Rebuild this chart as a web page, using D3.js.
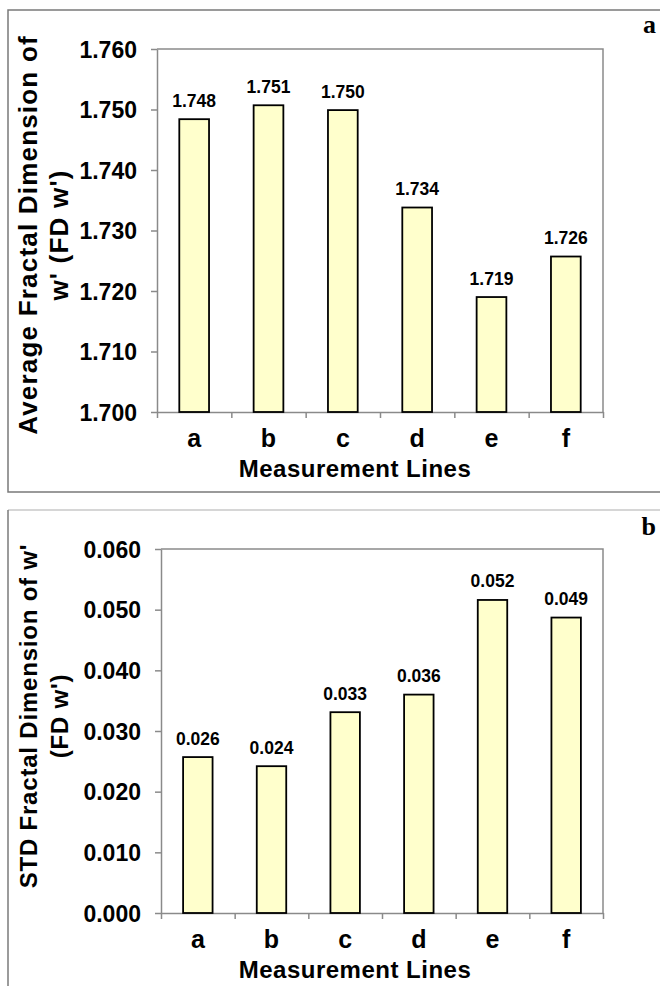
<!DOCTYPE html>
<html>
<head>
<meta charset="utf-8">
<script src="https://cdn.jsdelivr.net/npm/d3@7"></script>
<style>
  body { margin: 0; background: #fff; }
  text { font-family: Arial, "Liberation Sans", Helvetica, sans-serif; font-weight: bold; fill: #000; }
</style>
</head>
<body>
<svg></svg>
<script>
// data
var lines = ['a', 'b', 'c', 'd', 'e', 'f'];
var avgFD = [1.7484, 1.7507, 1.7499, 1.7338, 1.7190, 1.7257];
var stdFD = [0.0257, 0.0242, 0.0331, 0.0360, 0.0516, 0.0487];
var avgTicks = [1.700, 1.710, 1.720, 1.730, 1.740, 1.750, 1.760];
var stdTicks = [0.000, 0.010, 0.020, 0.030, 0.040, 0.050, 0.060];
var avgTitle = ['Average Fractal Dimension of', "w' (FD w')"];
var stdTitle = ["STD Fractal Dimension of w'", "(FD w')"];
var xTitle = 'Measurement Lines';

var width = 660,
  height = 986;

var svg = d3.select('svg')
  .attr('width', width)
  .attr('height', height);

// outer frames of the two panels
svg.append('path')
  .attr('d', 'M 680 10 H 8 V 492 H 680')
  .attr('fill', 'none')
  .attr('stroke', '#7a7a7a')
  .attr('stroke-width', 1.5);
svg.append('line')
  .attr('x1', 8).attr('x2', 680).attr('y1', 510).attr('y2', 510)
  .attr('stroke', '#c8c8c8').attr('stroke-width', 1.5);
svg.append('line')
  .attr('x1', 8).attr('x2', 8).attr('y1', 510).attr('y2', 1000)
  .attr('stroke', '#7a7a7a').attr('stroke-width', 1.5);

drawPanel({
  left: 157, right: 603, top: 49, bottom: 412,
  values: avgFD, ticks: avgTicks, title: avgTitle,
  titleY: 235, titleSize: 26, titleSpacing: 1.2, letter: 'a', letterY: 33
});

drawPanel({
  left: 161, right: 603, top: 549, bottom: 913,
  values: stdFD, ticks: stdTicks, title: stdTitle,
  titleY: 716, titleSize: 24, titleSpacing: 0.8, letter: 'b', letterY: 535
});

function drawPanel(p) {
  var g = svg.append('g');

  var x = d3.scaleBand()
    .domain(lines)
    .range([p.left, p.right])
    .paddingInner(0.6)
    .paddingOuter(0.3);

  var xEdges = d3.scaleLinear()
    .domain([0, lines.length])
    .range([p.left, p.right]);

  var y = d3.scaleLinear()
    .domain([p.ticks[0], p.ticks[p.ticks.length - 1]])
    .range([p.bottom, p.top]);

  // plot frame (top and right)
  g.append('path')
    .attr('d', 'M ' + p.left + ' ' + p.top + ' H ' + p.right + ' V ' + p.bottom)
    .attr('fill', 'none')
    .attr('stroke', '#8a8a8a')
    .attr('stroke-width', 1.5);

  // y axis
  var yAxis = g.append('g')
    .attr('transform', 'translate(' + p.left + ',0)')
    .call(d3.axisLeft(y).tickValues(p.ticks).tickFormat(d3.format('.3f')).tickSize(6).tickSizeOuter(0));
  yAxis.select('.domain').attr('stroke', '#8a8a8a').attr('stroke-width', 1.5);
  yAxis.selectAll('.tick line').attr('stroke', '#8a8a8a').attr('stroke-width', 1.5);
  yAxis.attr('font-family', null).attr('font-size', null);
  yAxis.selectAll('.tick text')
    .attr('x', -20)
    .attr('dy', '0.36em')
    .attr('font-size', 23)
    .attr('fill', '#000');

  // x axis: ticks at the category boundaries
  var xAxis = g.append('g')
    .attr('transform', 'translate(0,' + p.bottom + ')')
    .call(d3.axisBottom(xEdges).ticks(lines.length).tickFormat('').tickSize(6).tickSizeOuter(0));
  xAxis.select('.domain').attr('stroke', '#8a8a8a').attr('stroke-width', 1.5);
  xAxis.selectAll('.tick line').attr('stroke', '#8a8a8a').attr('stroke-width', 1.5);

  // category labels
  var xLab = g.append('g')
    .attr('transform', 'translate(0,' + p.bottom + ')')
    .call(d3.axisBottom(x).tickSize(0));
  xLab.select('.domain').remove();
  xLab.attr('font-family', null).attr('font-size', null);
  xLab.selectAll('.tick text')
    .attr('y', 35)
    .attr('dy', null)
    .attr('font-size', 25)
    .attr('fill', '#000');

  // bars
  g.selectAll('rect.bar')
    .data(p.values)
    .join('rect')
    .attr('class', 'bar')
    .attr('x', (d, i) => x(lines[i]))
    .attr('y', d => y(d))
    .attr('width', x.bandwidth())
    .attr('height', d => p.bottom - y(d))
    .attr('fill', '#ffffcc')
    .attr('stroke', '#000')
    .attr('stroke-width', 1.8);

  // value labels
  g.selectAll('text.val')
    .data(p.values)
    .join('text')
    .attr('class', 'val')
    .attr('x', (d, i) => x(lines[i]) + x.bandwidth() / 2)
    .attr('y', d => y(d) - 12.5)
    .attr('text-anchor', 'middle')
    .attr('font-size', 17.5)
    .text(d => d3.format('.3f')(d));

  // x title
  g.append('text')
    .attr('x', 355)
    .attr('y', p.bottom + 65)
    .attr('text-anchor', 'middle')
    .attr('font-size', 24)
    .attr('letter-spacing', 0.5)
    .text(xTitle);

  // y title, two lines
  g.selectAll('text.ytitle')
    .data(p.title)
    .join('text')
    .attr('class', 'ytitle')
    .attr('transform', (d, i) => 'translate(' + (37 + i * 31) + ',' + p.titleY + ') rotate(-90)')
    .attr('text-anchor', 'middle')
    .attr('font-size', p.titleSize)
    .attr('letter-spacing', p.titleSpacing)
    .text(d => d);

  // panel letter
  g.append('text')
    .attr('x', 656)
    .attr('y', p.letterY)
    .attr('text-anchor', 'end')
    .attr('font-size', 26)
    .style('font-family', '"Liberation Serif", "Times New Roman", serif')
    .text(p.letter);
}
</script>
</body>
</html>
